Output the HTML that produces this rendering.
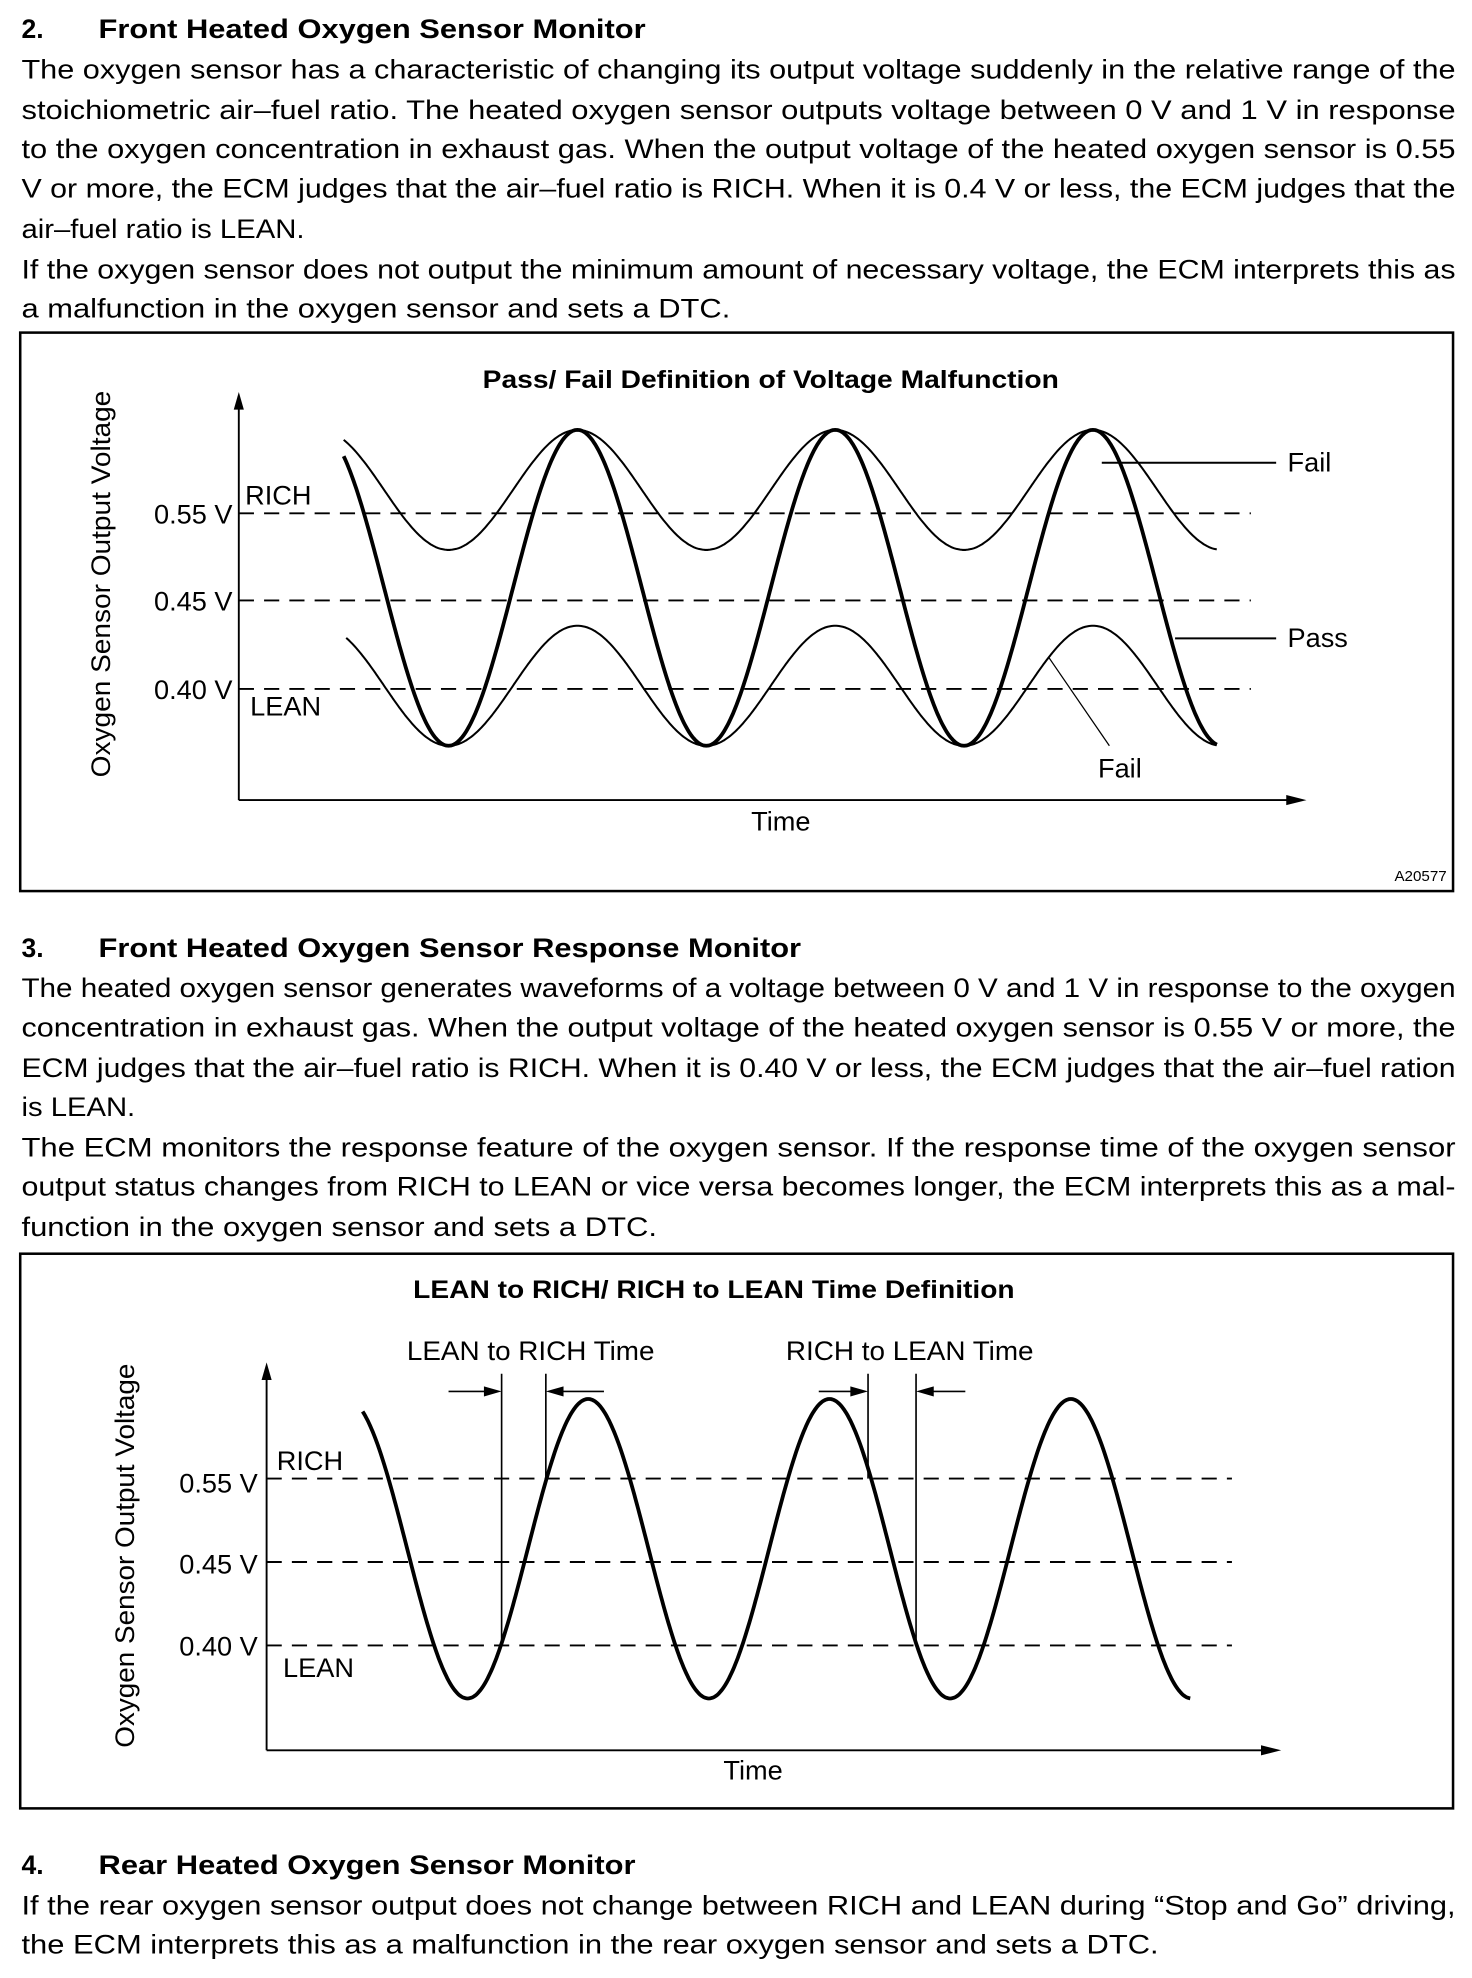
<!DOCTYPE html>
<html><head><meta charset="utf-8"><style>
html,body{margin:0;padding:0;background:#fff;}
svg{display:block;}
text{font-family:"Liberation Sans",Arial,sans-serif;fill:#000;}
.b{font-size:21px;}
.h{font-size:21px;font-weight:bold;}
.s{font-size:21.5px;}
.t{font-size:20px;font-weight:bold;}
</style></head><body>
<svg id="svg" width="1472" height="1978" viewBox="0 0 1165 1565" xmlns="http://www.w3.org/2000/svg">
<rect width="1165" height="1565" fill="#fff"/>
<!-- Section 2 -->
<text class="h" x="17" y="30">2.</text>
<text class="h" x="78" y="30" textLength="433" lengthAdjust="spacingAndGlyphs">Front Heated Oxygen Sensor Monitor</text>
<text class="b" x="17" y="62" textLength="1135" lengthAdjust="spacingAndGlyphs">The oxygen sensor has a characteristic of changing its output voltage suddenly in the relative range of the</text>
<text class="b" x="17" y="94" textLength="1135" lengthAdjust="spacingAndGlyphs">stoichiometric air–fuel ratio. The heated oxygen sensor outputs voltage between 0 V and 1 V in response</text>
<text class="b" x="17" y="125" textLength="1135" lengthAdjust="spacingAndGlyphs">to the oxygen concentration in exhaust gas. When the output voltage of the heated oxygen sensor is 0.55</text>
<text class="b" x="17" y="156" textLength="1135" lengthAdjust="spacingAndGlyphs">V or more, the ECM judges that the air–fuel ratio is RICH. When it is 0.4 V or less, the ECM judges that the</text>
<text class="b" x="17" y="188" textLength="224" lengthAdjust="spacingAndGlyphs">air–fuel ratio is LEAN.</text>
<text class="b" x="17" y="220" textLength="1135" lengthAdjust="spacingAndGlyphs">If the oxygen sensor does not output the minimum amount of necessary voltage, the ECM interprets this as</text>
<text class="b" x="17" y="251" textLength="561" lengthAdjust="spacingAndGlyphs">a malfunction in the oxygen sensor and sets a DTC.</text>

<!-- Chart 1 -->
<rect x="16" y="263" width="1134" height="442" fill="none" stroke="#000" stroke-width="2"/>
<text class="t" x="382" y="307" textLength="456" lengthAdjust="spacingAndGlyphs">Pass/ Fail Definition of Voltage Malfunction</text>
<line x1="189" y1="318" x2="189" y2="633" stroke="#000" stroke-width="1.5"/>
<polygon points="189,310 185,324 193,324" fill="#000"/>
<line x1="189" y1="633" x2="1022" y2="633" stroke="#000" stroke-width="1.5"/>
<polygon points="1034,633 1018,629 1018,637" fill="#000"/>
<text class="s" transform="translate(87,462) rotate(-90)" text-anchor="middle" textLength="306" lengthAdjust="spacingAndGlyphs">Oxygen Sensor Output Voltage</text>
<g stroke="#000" stroke-width="1.5" stroke-dasharray="12,8">
<line x1="189" y1="406" x2="990" y2="406"/>
<line x1="189" y1="475" x2="990" y2="475"/>
<line x1="189" y1="545" x2="990" y2="545"/>
</g>
<text class="s" x="184" y="414" text-anchor="end">0.55 V</text>
<text class="s" x="184" y="483" text-anchor="end">0.45 V</text>
<text class="s" x="184" y="553" text-anchor="end">0.40 V</text>
<text class="s" x="194" y="399">RICH</text>
<text class="s" x="198" y="566">LEAN</text>
<path id="c1p" fill="none" stroke="#000" stroke-width="3"/>
<path id="c1u" fill="none" stroke="#000" stroke-width="1.6"/>
<path id="c1l" fill="none" stroke="#000" stroke-width="1.6"/>
<line x1="872" y1="366" x2="1010" y2="366" stroke="#000" stroke-width="1.5"/>
<line x1="930" y1="505" x2="1010" y2="505" stroke="#000" stroke-width="1.5"/>
<line x1="830" y1="520" x2="878" y2="590" stroke="#000" stroke-width="1"/>
<text class="s" x="1019" y="373">Fail</text>
<text class="s" x="1019" y="512">Pass</text>
<text class="s" x="869" y="615">Fail</text>
<text class="s" x="618" y="657" text-anchor="middle">Time</text>
<text x="1145" y="697" text-anchor="end" style="font-size:12px">A20577</text>

<!-- Section 3 -->
<text class="h" x="17" y="757">3.</text>
<text class="h" x="78" y="757" textLength="556" lengthAdjust="spacingAndGlyphs">Front Heated Oxygen Sensor Response Monitor</text>
<text class="b" x="17" y="789" textLength="1135" lengthAdjust="spacingAndGlyphs">The heated oxygen sensor generates waveforms of a voltage between 0 V and 1 V in response to the oxygen</text>
<text class="b" x="17" y="820" textLength="1135" lengthAdjust="spacingAndGlyphs">concentration in exhaust gas. When the output voltage of the heated oxygen sensor is 0.55 V or more, the</text>
<text class="b" x="17" y="852" textLength="1135" lengthAdjust="spacingAndGlyphs">ECM judges that the air–fuel ratio is RICH. When it is 0.40 V or less, the ECM judges that the air–fuel ration</text>
<text class="b" x="17" y="883" textLength="90" lengthAdjust="spacingAndGlyphs">is LEAN.</text>
<text class="b" x="17" y="915" textLength="1135" lengthAdjust="spacingAndGlyphs">The ECM monitors the response feature of the oxygen sensor. If the response time of the oxygen sensor</text>
<text class="b" x="17" y="946" textLength="1135" lengthAdjust="spacingAndGlyphs">output status changes from RICH to LEAN or vice versa becomes longer, the ECM interprets this as a mal-</text>
<text class="b" x="17" y="978" textLength="503" lengthAdjust="spacingAndGlyphs">function in the oxygen sensor and sets a DTC.</text>

<!-- Chart 2 -->
<rect x="16" y="992" width="1134" height="439" fill="none" stroke="#000" stroke-width="2"/>
<text class="t" x="327" y="1027" textLength="476" lengthAdjust="spacingAndGlyphs">LEAN to RICH/ RICH to LEAN Time Definition</text>
<line x1="211" y1="1086" x2="211" y2="1385" stroke="#000" stroke-width="1.5"/>
<polygon points="211,1078 207,1092 215,1092" fill="#000"/>
<line x1="211" y1="1385" x2="1002" y2="1385" stroke="#000" stroke-width="1.5"/>
<polygon points="1014,1385 998,1381 998,1389" fill="#000"/>
<text class="s" transform="translate(106,1231) rotate(-90)" text-anchor="middle" textLength="304" lengthAdjust="spacingAndGlyphs">Oxygen Sensor Output Voltage</text>
<g stroke="#000" stroke-width="1.5" stroke-dasharray="12,8">
<line x1="211" y1="1170" x2="975" y2="1170"/>
<line x1="211" y1="1236" x2="975" y2="1236"/>
<line x1="211" y1="1302" x2="975" y2="1302"/>
</g>
<text class="s" x="204" y="1181" text-anchor="end">0.55 V</text>
<text class="s" x="204" y="1245" text-anchor="end">0.45 V</text>
<text class="s" x="204" y="1310" text-anchor="end">0.40 V</text>
<text class="s" x="219" y="1163">RICH</text>
<text class="s" x="224" y="1327">LEAN</text>
<path id="c2" fill="none" stroke="#000" stroke-width="3"/>
<g stroke="#000" stroke-width="1.3">
<line x1="397" y1="1087" x2="397" y2="1302"/>
<line x1="432" y1="1087" x2="432" y2="1170"/>
<line x1="687" y1="1087" x2="687" y2="1170"/>
<line x1="725" y1="1087" x2="725" y2="1302"/>
<line x1="355" y1="1101" x2="385" y2="1101"/>
<line x1="444" y1="1101" x2="478" y2="1101"/>
<line x1="648" y1="1101" x2="675" y2="1101"/>
<line x1="737" y1="1101" x2="764" y2="1101"/>
</g>
<polygon points="397,1101 383,1097 383,1105" fill="#000"/>
<polygon points="432,1101 446,1097 446,1105" fill="#000"/>
<polygon points="687,1101 673,1097 673,1105" fill="#000"/>
<polygon points="725,1101 739,1097 739,1105" fill="#000"/>
<text class="s" x="322" y="1076" textLength="196" lengthAdjust="spacingAndGlyphs">LEAN to RICH Time</text>
<text class="s" x="622" y="1076" textLength="196" lengthAdjust="spacingAndGlyphs">RICH to LEAN Time</text>
<text class="s" x="596" y="1408" text-anchor="middle">Time</text>

<!-- Section 4 -->
<text class="h" x="17" y="1483">4.</text>
<text class="h" x="78" y="1483" textLength="425" lengthAdjust="spacingAndGlyphs">Rear Heated Oxygen Sensor Monitor</text>
<text class="b" x="17" y="1515" textLength="1135" lengthAdjust="spacingAndGlyphs">If the rear oxygen sensor output does not change between RICH and LEAN during “Stop and Go” driving,</text>
<text class="b" x="17" y="1546" textLength="900" lengthAdjust="spacingAndGlyphs">the ECM interprets this as a malfunction in the rear oxygen sensor and sets a DTC.</text>
</svg>
<script>
function wave(x0,x1,trough,period,top,bot){
  var mid=(top+bot)/2,A=(bot-top)/2,d="";
  for(var x=x0;x<=x1;x+=1){
    var c=Math.cos(2*Math.PI*(x-trough)/period);
    var y=mid+A*c;
    d+=(x==x0?"M":"L")+x.toFixed(1)+","+y.toFixed(1);
  }
  return d;
}
document.getElementById("c1p").setAttribute("d",wave(272,963,355,204,340,590));
document.getElementById("c1u").setAttribute("d",wave(272,963,355,204,340,435));
document.getElementById("c1l").setAttribute("d",wave(274,963,355,204,495,590));
document.getElementById("c2").setAttribute("d",wave(287,942,370,191,1107,1344));
</script>
</body></html>
